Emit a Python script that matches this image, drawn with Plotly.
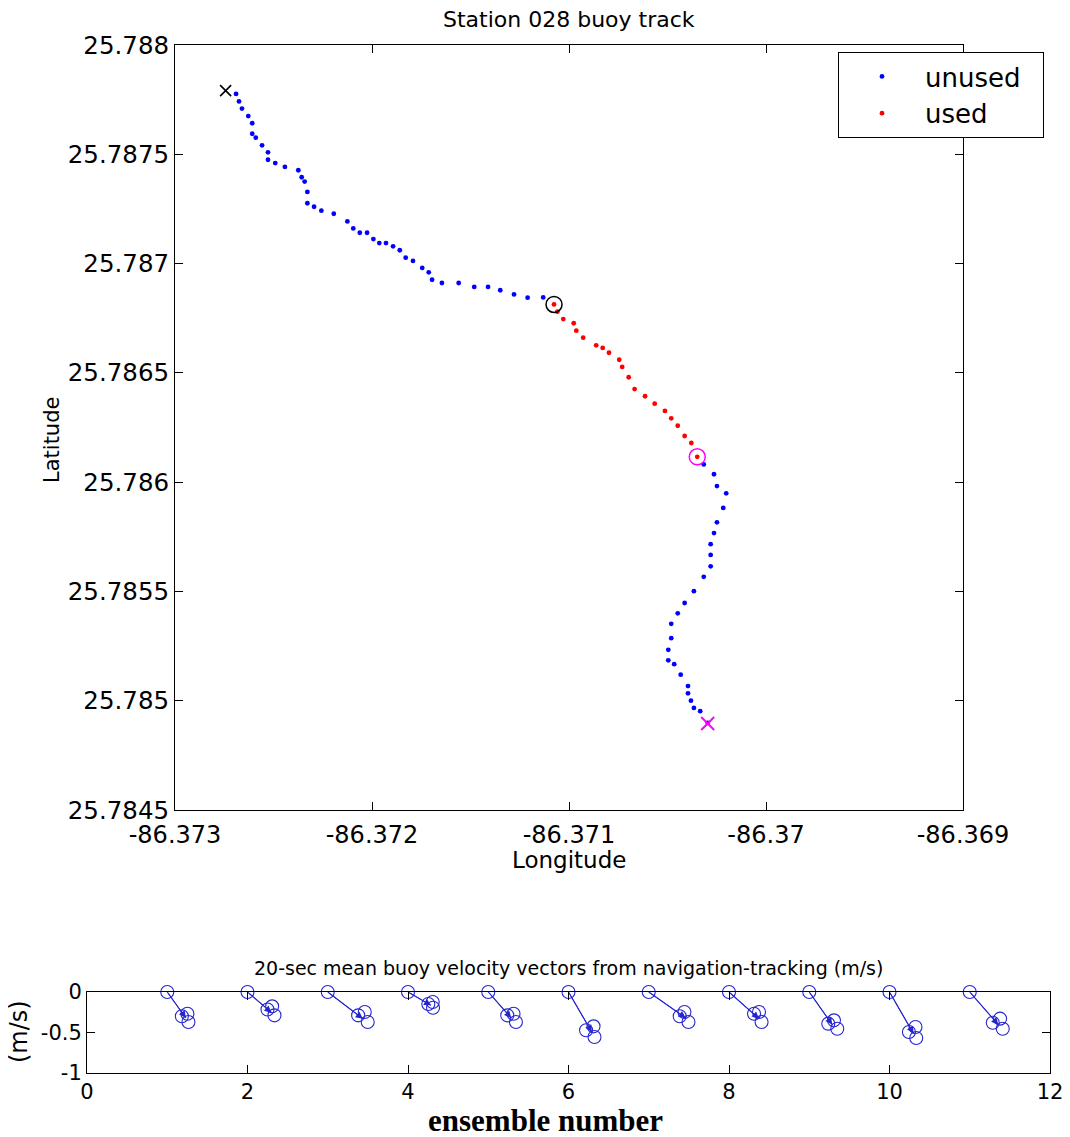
import plotly.graph_objects as go

# ---------------- data: buoy track ----------------
unused1_lon = [-86.372690, -86.372675, -86.372660, -86.372628, -86.372608, -86.372608, -86.372590,
               -86.372558, -86.372528, -86.372528, -86.372491, -86.372442, -86.372374, -86.372357,
               -86.372342, -86.372328, -86.372328, -86.372294, -86.372257, -86.372194, -86.372125,
               -86.372095, -86.372062, -86.372025, -86.371993, -86.371963, -86.371929, -86.371893,
               -86.371859, -86.371829, -86.371792, -86.371745, -86.371712, -86.371695, -86.371645,
               -86.371560, -86.371481, -86.371411, -86.371349, -86.371279, -86.371210, -86.371131]
unused1_lat = [25.787776, 25.787742, 25.787709, 25.787675, 25.787642, 25.787594, 25.787576,
               25.787541, 25.787509, 25.787475, 25.787460, 25.787442, 25.787427, 25.787395,
               25.787375, 25.787328, 25.787276, 25.787260, 25.787242, 25.787228, 25.787193,
               25.787161, 25.787141, 25.787141, 25.787112, 25.787094, 25.787094, 25.787079,
               25.787061, 25.787027, 25.787012, 25.786980, 25.786960, 25.786926, 25.786911,
               25.786911, 25.786893, 25.786893, 25.786878, 25.786859, 25.786844, 25.786845]

used_lon = [-86.371076, -86.371059, -86.371029, -86.370976, -86.370963, -86.370928, -86.370862,
            -86.370829, -86.370797, -86.370745, -86.370730, -86.370697, -86.370667, -86.370614,
            -86.370565, -86.370513, -86.370481, -86.370448, -86.370413, -86.370379, -86.370349]
used_lat = [25.786813, 25.786780, 25.786746, 25.786727, 25.786693, 25.786661, 25.786626,
            25.786614, 25.786592, 25.786560, 25.786527, 25.786480, 25.786426, 25.786393,
            25.786359, 25.786326, 25.786292, 25.786258, 25.786211, 25.786179, 25.786116]

unused2_lon = [-86.370316, -86.370264, -86.370249, -86.370202, -86.370217, -86.370249, -86.370264,
               -86.370281, -86.370281, -86.370281, -86.370316, -86.370366, -86.370413, -86.370448,
               -86.370481, -86.370481, -86.370496, -86.370496, -86.370466, -86.370433, -86.370396,
               -86.370396, -86.370381, -86.370366, -86.370334, -86.370296]
unused2_lat = [25.786081, 25.786036, 25.785982, 25.785949, 25.785882, 25.785816, 25.785767,
               25.785716, 25.785667, 25.785615, 25.785567, 25.785501, 25.785447, 25.785400,
               25.785352, 25.785286, 25.785233, 25.785185, 25.785167, 25.785119, 25.785067,
               25.785034, 25.785000, 25.784967, 25.784952, 25.784899]

track_start = (-86.372743, 25.787791)
track_end = (-86.370296, 25.784896)
used_start = (-86.371076, 25.786813)
used_end = (-86.370349, 25.786116)

lon_ticks = [-86.373, -86.372, -86.371, -86.370, -86.369]
lon_labels = ["-86.373", "-86.372", "-86.371", "-86.37", "-86.369"]
lat_ticks = [25.7845, 25.785, 25.7855, 25.786, 25.7865, 25.787, 25.7875, 25.788]
lat_labels = ["25.7845", "25.785", "25.7855", "25.786", "25.7865", "25.787", "25.7875", "25.788"]

# ---------------- data: velocity vectors ----------------
ensemble = [1, 2, 3, 4, 5, 6, 7, 8, 9, 10, 11]
u_mean = [0.232, 0.299, 0.436, 0.287, 0.287, 0.290, 0.461, 0.374, 0.287, 0.299, 0.356]
v_mean = [-0.321, -0.255, -0.329, -0.165, -0.321, -0.494, -0.321, -0.329, -0.404, -0.514, -0.404]
u_s1 = [0.182, 0.249, 0.379, 0.253, 0.237, 0.219, 0.386, 0.312, 0.237, 0.242, 0.287]
v_s1 = [-0.300, -0.216, -0.288, -0.148, -0.288, -0.473, -0.300, -0.268, -0.391, -0.494, -0.379]
u_s2 = [0.251, 0.307, 0.461, 0.308, 0.315, 0.312, 0.445, 0.374, 0.308, 0.324, 0.378]
v_s2 = [-0.268, -0.177, -0.247, -0.123, -0.268, -0.424, -0.247, -0.247, -0.350, -0.432, -0.329]
u_s3 = [0.264, 0.336, 0.498, 0.312, 0.345, 0.324, 0.495, 0.406, 0.349, 0.333, 0.411]
v_s3 = [-0.370, -0.288, -0.370, -0.194, -0.370, -0.556, -0.370, -0.370, -0.453, -0.568, -0.453]

vel_xticks = [0, 2, 4, 6, 8, 10, 12]
vel_xlabels = ["0", "2", "4", "6", "8", "10", "12"]
vel_yticks = [-1, -0.5, 0]
vel_ylabels = ["-1", "-0.5", "0"]

legend_names = ["unused", "used"]

SANS = "DejaVu Sans"
BLUE = "#0000ff"
VBLUE = "#2525d0"

fig = go.Figure()

# main track
fig.add_trace(go.Scatter(x=unused1_lon, y=unused1_lat, mode="markers",
                         name=legend_names[0] + "\u00a0\u00a0",
                         marker=dict(color=BLUE, size=4.8, symbol="circle"),
                         xaxis="x", yaxis="y", legendgroup="unused"))
fig.add_trace(go.Scatter(x=used_lon, y=used_lat, mode="markers", name=legend_names[1],
                         marker=dict(color="#ff0000", size=4.8, symbol="circle"),
                         xaxis="x", yaxis="y"))
fig.add_trace(go.Scatter(x=unused2_lon, y=unused2_lat, mode="markers", name=legend_names[0],
                         marker=dict(color=BLUE, size=4.8, symbol="circle"),
                         xaxis="x", yaxis="y", legendgroup="unused", showlegend=False))
fig.add_trace(go.Scatter(x=[used_start[0]], y=[used_start[1]], mode="markers", showlegend=False,
                         marker=dict(symbol="circle-open", size=16, color="black",
                                     line=dict(width=1.5, color="black")),
                         xaxis="x", yaxis="y"))
fig.add_trace(go.Scatter(x=[used_end[0]], y=[used_end[1]], mode="markers", showlegend=False,
                         marker=dict(symbol="circle-open", size=16, color="#ff00ff",
                                     line=dict(width=1.5, color="#ff00ff")),
                         xaxis="x", yaxis="y"))
fig.add_trace(go.Scatter(x=[track_start[0]], y=[track_start[1]], mode="markers", showlegend=False,
                         marker=dict(symbol="x-thin", size=11, color="black",
                                     line=dict(width=1.6, color="black")),
                         xaxis="x", yaxis="y"))
fig.add_trace(go.Scatter(x=[track_end[0]], y=[track_end[1]], mode="markers", showlegend=False,
                         marker=dict(symbol="x-thin", size=13, color="#ff00ff",
                                     line=dict(width=2, color="#ff00ff")),
                         xaxis="x", yaxis="y"))

# velocity vectors
for i in range(len(ensemble)):
    x0 = ensemble[i]
    xt = x0 + u_mean[i]
    yt = v_mean[i]
    fig.add_trace(go.Scatter(x=[x0, xt], y=[0, yt], mode="lines", showlegend=False,
                             line=dict(color=VBLUE, width=1.1), xaxis="x2", yaxis="y2"))
    fig.add_annotation(x=xt, y=yt, ax=x0, ay=0, xref="x2", yref="y2", axref="x2", ayref="y2",
                       showarrow=True, arrowhead=2, arrowsize=1.4, arrowwidth=1,
                       arrowcolor=VBLUE, text="")
circ_x = []
circ_y = []
for i in range(len(ensemble)):
    circ_x += [ensemble[i], ensemble[i] + u_s1[i], ensemble[i] + u_s2[i], ensemble[i] + u_s3[i]]
    circ_y += [0, v_s1[i], v_s2[i], v_s3[i]]
fig.add_trace(go.Scatter(x=circ_x, y=circ_y, mode="markers", showlegend=False,
                         marker=dict(symbol="circle-open", size=13, color=VBLUE,
                                     line=dict(width=1.1, color=VBLUE)),
                         xaxis="x2", yaxis="y2", cliponaxis=False))

# page body has an 8px margin: size the figure so the plot lands on the reference pixels
OFF = 8
W, H = 1070 - OFF, 1137 - OFF
L, T = 87 - OFF, 45 - OFF
R = W - (1050 - OFF)
B = H - (1073 - OFF)
pw, ph = W - L - R, H - T - B


def px(xp):
    return (xp - 87) / pw


def py(yp):
    return (1073 - yp) / ph


axis_common = dict(showline=True, linecolor="black", linewidth=1, mirror="ticks",
                   ticks="inside", ticklen=8, tickcolor="black", showgrid=False,
                   zeroline=False, automargin=False)

fig.update_layout(
    template="none",
    width=W, height=H, autosize=False,
    margin=dict(l=L, r=R, t=T, b=B, pad=0),
    paper_bgcolor="white", plot_bgcolor="white",
    font=dict(family=SANS, color="black"),
    xaxis=dict(domain=[px(175), px(963)], range=[-86.373, -86.369], anchor="y",
               tickvals=lon_ticks, ticktext=lon_labels, tickfont=dict(size=24, family=SANS),
               ticklabelstandoff=3, **axis_common),
    yaxis=dict(domain=[py(810), py(45)], range=[25.7845, 25.788], anchor="x",
               tickvals=lat_ticks, ticktext=lat_labels, tickfont=dict(size=24.5, family=SANS),
               **axis_common),
    xaxis2=dict(domain=[0, 1], range=[0, 12], anchor="y2",
                tickvals=vel_xticks, ticktext=vel_xlabels, tickfont=dict(size=21, family=SANS),
                **axis_common),
    yaxis2=dict(domain=[0, py(992)], range=[-1, 0], anchor="x2",
                tickvals=vel_yticks, ticktext=vel_ylabels, tickfont=dict(size=21, family=SANS),
                **axis_common),
    legend=dict(x=px(838), y=py(52), xanchor="left", yanchor="top",
                bgcolor="white", bordercolor="black", borderwidth=1,
                font=dict(size=26, family=SANS), itemwidth=76, tracegroupgap=0),
    showlegend=True,
)

annots = [
    dict(text="Station 028 buoy track", x=px(569), y=py(19), size=22, angle=0, fam=SANS),
    dict(text="Longitude", x=px(569), y=py(860), size=23, angle=0, fam=SANS),
    dict(text="Latitude", x=px(52), y=py(440), size=21, angle=-90, fam=SANS),
    dict(text="20-sec mean buoy velocity vectors from navigation-tracking (m/s)", x=px(568), y=py(968),
         size=19, angle=0, fam=SANS),
    dict(text="(m/s)", x=px(19), y=py(1032), size=24, angle=-90, fam=SANS),
    dict(text="<b>ensemble number</b>", x=px(545), y=py(1120), size=31, angle=0,
         fam="Liberation Serif"),
]
for a in annots:
    fig.add_annotation(text=a["text"], x=a["x"], y=a["y"], xref="paper", yref="paper",
                       xanchor="center", yanchor="middle", showarrow=False, textangle=a["angle"],
                       font=dict(size=a["size"], family=a["fam"], color="black"))

fig.write_html("out.html")
